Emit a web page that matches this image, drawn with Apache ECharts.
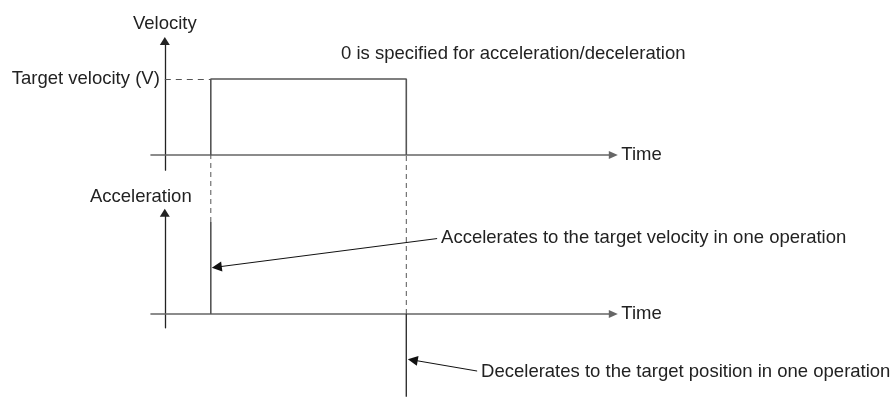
<!DOCTYPE html>
<html>
<head>
<meta charset="utf-8">
<script src="https://cdn.jsdelivr.net/npm/echarts@6/dist/echarts.min.js"></script>
<style>
  html, body { margin: 0; padding: 0; background: #ffffff; }
  #chart { width: 893px; height: 398px; }
</style>
</head>
<body>
<div id="chart"></div>
<script>
// ---- Data (arbitrary time units; velocity/acceleration normalised) ----
const tAccel = 1;          // instant of acceleration
const tDecel = 5.25;       // instant of deceleration
const targetVelocity = 1;  // V

const velocityTimes  = [1, 1, 5.25, 5.25];
const velocityValues = [0, 1, 1, 0];

const accelTimes  = [1, 1];
const accelValues = [0, 1];

const decelTimes  = [5.25, 5.25];
const decelValues = [0, -0.9];

// dashed guide lines from the velocity time axis down to the acceleration plot
const guideTop = 1.73;      // level of velocity time axis, in acceleration units
const guideTimes   = [1, 5.25];
const guideBottoms = [1, 0];

// annotation arrows: [time, acceleration] of text anchor and arrow tip
const accelNoteFrom = [5.92, 0.82];
const accelNoteTo   = [1.13, 0.51];
const decelNoteFrom = [6.79, -0.62];
const decelNoteTo   = [5.39, -0.50];

const texts = {
  title: '0 is specified for acceleration/deceleration',
  velocity: 'Velocity',
  acceleration: 'Acceleration',
  time: 'Time',
  target: 'Target velocity (V)',
  accelNote: 'Accelerates to the target velocity in one operation',
  decelNote: 'Decelerates to the target position in one operation'
};

// ---- Styles ----
const FONT = 'Liberation Sans, Arial, sans-serif';
const TXT = '#222222';
const FS = 18.5;
const xMin = -0.3, xMax = 9.75;

function zip(a, b) { return a.map((v, i) => [v, b[i]]); }

function xAxisCfg(gridIndex, show) {
  return {
    type: 'value', gridIndex, min: xMin, max: xMax, show,
    name: show ? texts.time : '', nameLocation: 'end', nameGap: 8,
    nameTextStyle: { color: TXT, fontSize: FS, fontFamily: FONT },
    axisLine: { show: true, onZero: true, symbol: ['none', 'triangle'], symbolSize: [8, 9],
      lineStyle: { color: '#666666', width: 1.6 } },
    axisTick: { show: false }, axisLabel: { show: false }, splitLine: { show: false }
  };
}
function yAxisCfg(gridIndex, min, max, name, nameGap, padding, show) {
  return {
    type: 'value', gridIndex, min, max, show,
    name, nameLocation: 'end', nameGap,
    nameTextStyle: { color: TXT, fontSize: FS, fontFamily: FONT, padding },
    axisLine: { show: true, onZero: true, symbol: ['none', 'triangle'], symbolSize: [10, 8],
      lineStyle: { color: '#222222', width: 1.3 } },
    axisTick: { show: false }, axisLabel: { show: false }, splitLine: { show: false }
  };
}

const option = {
  animation: false,
  backgroundColor: '#ffffff',
  title: {
    text: texts.title, left: 341, top: 44, padding: 0,
    textStyle: { color: TXT, fontSize: FS, fontWeight: 'normal', fontFamily: FONT }
  },
  grid: [
    { left: 151, width: 462.3, top: 41, height: 129.2 },
    { left: 151, width: 462.3, top: 212.8, height: 115 },
    // overlay sharing the acceleration scale, extended downwards for the deceleration part
    { left: 151, width: 462.3, top: 212.8, height: 184 }
  ],
  xAxis: [xAxisCfg(0, true), xAxisCfg(1, true), xAxisCfg(2, false)],
  yAxis: [
    yAxisCfg(0, -0.2, 1.5, texts.velocity, 8, [0, 0, 0, 0], true),
    yAxisCfg(1, -0.15, 1.1, texts.acceleration, 6, [0, 48, 0, 0], true),
    yAxisCfg(2, -0.9, 1.1, '', 0, [0, 0, 0, 0], false)
  ],
  series: [
    {
      name: 'velocity', type: 'line', xAxisIndex: 0, yAxisIndex: 0,
      data: zip(velocityTimes, velocityValues),
      symbol: 'none', lineStyle: { color: '#555555', width: 1.6 },
      markLine: {
        silent: true, symbol: ['none', 'none'], animation: false,
        lineStyle: { type: [6, 5], color: '#555555', width: 1 },
        label: { show: true, position: 'start', distance: 5, formatter: texts.target,
          color: TXT, fontSize: FS, fontFamily: FONT },
        data: [[{ coord: [0, targetVelocity] }, { coord: [tAccel, targetVelocity] }]]
      }
    },
    ...guideTimes.map((t, i) => ({
      name: 'guide' + i, type: 'line', xAxisIndex: 1, yAxisIndex: 1, clip: false,
      data: [[t, guideBottoms[i]], [t, guideTop]],
      symbol: 'none', z: 1,
      lineStyle: { color: '#555555', width: 1, type: [5, 4] }
    })),
    {
      name: 'acceleration', type: 'line', xAxisIndex: 1, yAxisIndex: 1, clip: false,
      data: zip(accelTimes, accelValues),
      symbol: 'none', lineStyle: { color: '#555555', width: 1.6 },
      markLine: {
        silent: true, symbol: ['none', 'triangle'], symbolSize: 10, animation: false,
        lineStyle: { type: 'solid', color: '#111111', width: 1 },
        label: { show: true, position: 'start', distance: 4, formatter: texts.accelNote,
          color: TXT, fontSize: FS, fontFamily: FONT },
        data: [[{ coord: accelNoteFrom }, { coord: accelNoteTo }]]
      }
    },
    {
      name: 'deceleration', type: 'line', xAxisIndex: 2, yAxisIndex: 2, clip: false,
      data: zip(decelTimes, decelValues),
      symbol: 'none', lineStyle: { color: '#333333', width: 1.4 },
      markLine: {
        silent: true, symbol: ['none', 'triangle'], symbolSize: 10, animation: false,
        lineStyle: { type: 'solid', color: '#111111', width: 1 },
        label: { show: true, position: 'start', distance: 4, formatter: texts.decelNote,
          color: TXT, fontSize: FS, fontFamily: FONT },
        data: [[{ coord: decelNoteFrom }, { coord: decelNoteTo }]]
      }
    }
  ]
};

const chart = echarts.init(document.getElementById('chart'), null, { renderer: 'canvas' });
chart.setOption(option);
</script>
</body>
</html>
